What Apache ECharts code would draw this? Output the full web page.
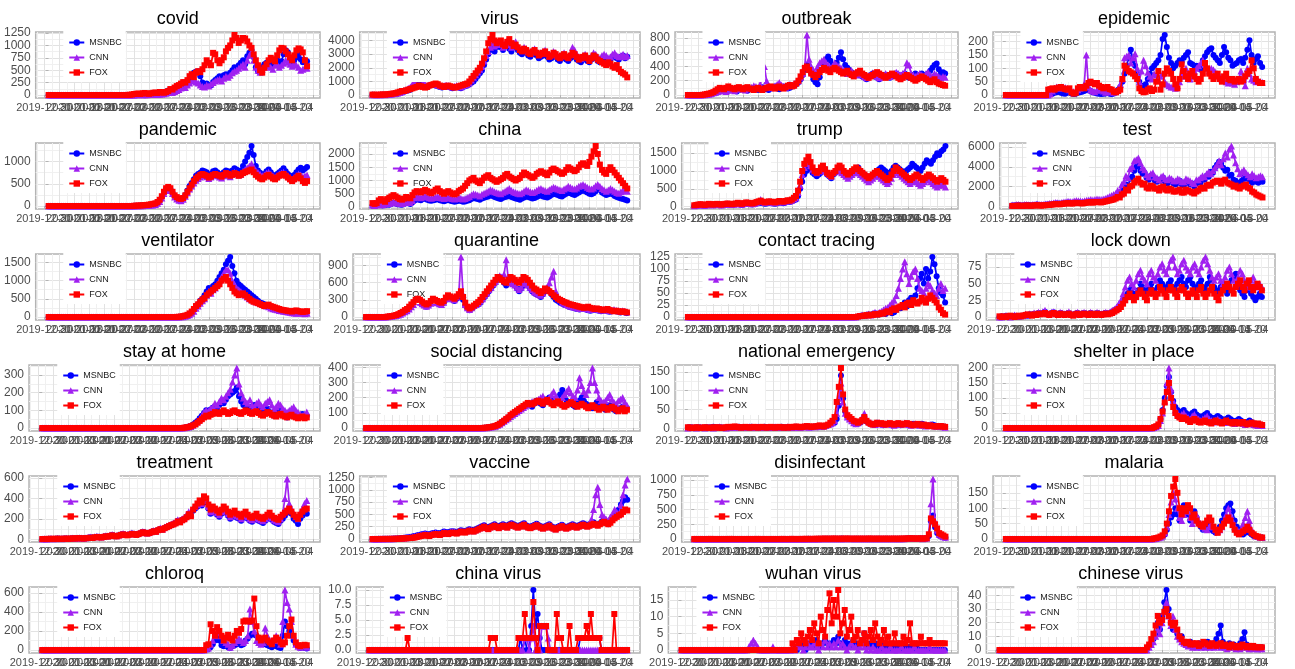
<!DOCTYPE html>
<html>
<head>
<meta charset="utf-8">
<title>Cable news keyword mentions</title>
<script src="https://cdn.jsdelivr.net/npm/echarts@6.0.0/dist/echarts.min.js"></script>
<style>
html,body{margin:0;padding:0;background:#fff;}
#chart{width:1295px;height:669px;}
</style>
</head>
<body>
<div id="chart"></div>
<script>
// Daily keyword mention counts per network, 2020-01-01 .. 2020-05-01 (122 days)
const firstDay = '2020-01-01';
const dayCount = 122;
const networks = ['MSNBC', 'CNN', 'FOX'];

const covid_msnbc = [0,0,0,0,0,0,0,0,0,0,  0,0,0,0,0,0,0,0,0,0,  0,0,0,0,0,0,0,0,0,0,  0,0,0,0,0,0,0,0,0,0,  5,8,12,15,10,6,10,15,20,15,  20,25,30,40,55,70,90,100,80,100,  120,160,200,250,220,280,330,400,450,470,  480,380,250,200,230,200,190,260,300,340,  380,330,400,420,380,450,500,560,520,600,  650,700,620,780,850,900,760,560,480,460,  560,620,650,680,640,600,660,700,650,680,  820,900,860,720,650,700,760,820,720,660,  700,680];
const covid_cnn = [0,0,0,0,0,0,0,0,0,0,  0,0,0,0,0,0,0,0,0,0,  0,0,0,0,0,0,0,0,0,0,  0,0,0,0,0,0,0,0,0,0,  2,3,5,8,6,4,6,8,10,8,  10,12,15,20,25,35,50,60,50,70,  90,110,140,170,150,200,240,280,300,260,  240,200,170,160,200,180,220,250,280,300,  320,280,340,380,360,400,450,480,500,540,  580,620,560,700,800,870,700,560,500,460,  520,560,600,580,560,520,600,620,560,600,  640,700,660,620,580,640,600,560,500,520,  560,540];
const covid_fox = [0,0,0,0,0,0,0,0,0,0,  0,0,0,0,0,0,0,0,0,0,  0,0,0,0,0,0,0,0,0,0,  0,0,0,0,0,0,0,2,5,10,  20,25,30,20,35,40,30,25,35,45,  50,40,60,55,45,60,80,120,110,150,  180,200,230,260,250,300,380,420,360,450,  480,460,520,600,700,650,600,850,820,700,  640,700,760,880,950,1000,1100,1210,1150,1050,  1100,1150,1140,1080,1000,950,820,700,600,500,  450,550,620,700,750,720,680,800,900,950,  940,880,820,760,700,800,900,940,920,860,  700,580];

const virus_msnbc = [20,15,10,15,20,25,20,30,40,50,  60,80,100,150,200,250,300,350,400,500,  600,700,900,800,700,650,600,700,800,750,  700,650,600,550,600,650,600,550,500,550,  600,550,500,600,650,700,800,900,1000,1200,  1400,1600,1800,2200,2600,3000,3300,3400,3200,3500,  3600,3500,3300,3600,3700,3400,3200,3500,3600,3300,  3100,3000,3200,3100,2900,2800,3000,3100,2900,2700,  2800,2900,3000,2800,2600,2700,2900,2800,2600,2500,  2700,2800,2600,2500,2700,2900,2800,2600,2500,2400,  2600,2700,2500,2400,2600,2800,2700,2500,2400,2600,  2800,2700,2500,2600,2800,2900,2700,2600,2800,2900,  2700,2800];
const virus_cnn = [30,25,20,25,30,40,35,50,60,80,  100,120,150,200,250,350,400,500,600,800,  1000,1200,1400,1200,900,800,700,800,900,850,  800,750,700,650,700,750,700,650,600,650,  700,650,600,700,750,800,900,1100,1300,1500,  1700,1900,2100,2500,2900,3200,3500,3800,3600,3700,  3900,3700,3500,3800,4000,3700,3500,3800,3900,3600,  3400,3300,3500,3400,3200,3100,3300,3400,3200,3000,  3100,3200,3300,3100,2900,3000,3200,3100,2900,2800,  3000,3100,2900,2800,3000,3500,3300,3000,2800,2700,  2900,3000,2800,2700,2900,3100,3000,2800,2700,2900,  3000,2900,2700,2800,3000,3100,2900,2800,2900,3000,  2800,2900];
const virus_fox = [40,30,20,30,40,50,40,60,80,100,  120,150,200,250,300,300,350,400,450,500,  550,600,700,650,600,550,600,700,750,800,  850,800,700,650,600,650,700,650,600,550,  600,650,700,750,800,850,1000,1200,1400,1600,  1800,2000,2300,2700,3200,3800,4100,4400,4000,3800,  3900,4000,3700,3600,3900,4100,3800,3600,3700,3500,  3300,3200,3400,3300,3100,3000,3200,3300,3100,2900,  3000,3100,3200,3000,2800,2900,3100,3000,2800,2700,  2900,3000,2800,2700,2900,3100,3000,2800,2600,2700,  2800,2900,2700,2500,2700,2900,2800,2600,2500,2400,  2300,2200,2400,2300,2100,2000,2200,1900,1700,1600,  1500,1300];

const outbreak_msnbc = [0,0,0,0,0,0,0,0,2,5,  10,15,20,30,40,50,60,55,50,60,  70,80,60,50,70,90,80,70,60,80,  90,100,80,70,90,110,100,80,70,90,  100,120,90,80,100,120,110,90,100,120,  130,150,180,220,280,350,420,380,300,220,  180,150,250,350,450,500,540,480,420,400,  450,520,600,500,420,380,350,320,300,280,  280,300,260,240,220,260,280,300,260,240,  220,240,260,280,260,240,260,280,300,280,  260,280,300,260,240,260,280,300,260,280,  300,280,260,300,340,380,420,440,360,300,  320,300];
const outbreak_cnn = [0,0,0,0,0,0,0,2,5,8,  10,20,30,40,50,60,70,60,50,70,  80,70,60,80,100,90,80,70,90,100,  110,130,120,100,150,250,400,200,120,100,  110,130,150,175,140,120,110,130,150,140,  160,180,200,250,300,400,840,500,400,350,  300,400,450,480,500,450,420,380,400,450,  420,400,380,350,330,300,320,340,300,280,  300,320,280,260,240,270,290,310,280,260,  240,260,280,300,280,260,280,300,320,300,  280,300,320,450,420,300,280,260,280,300,  280,260,300,320,280,260,300,280,260,240,  260,250];
const outbreak_fox = [0,0,0,0,0,0,0,3,8,15,  20,30,40,60,80,100,90,80,100,120,  100,90,80,100,110,90,80,100,110,90,  80,70,90,100,80,70,90,100,110,120,  100,90,110,120,100,90,110,130,140,120,  130,160,200,260,320,380,400,350,300,280,  250,280,320,350,380,360,340,320,360,380,  360,340,320,300,320,340,300,280,260,300,  320,340,300,280,260,240,260,280,300,320,  300,280,260,240,260,280,300,280,260,240,  220,240,260,280,260,240,220,200,220,240,  260,240,220,200,180,200,220,180,160,150,  140,130];

const epidemic_msnbc = [0,0,0,0,0,0,0,0,0,0,  0,0,0,0,0,0,0,0,0,0,  2,3,5,8,10,12,8,6,5,8,  10,6,4,5,8,10,12,15,20,18,  15,10,8,6,5,4,5,6,8,5,  4,6,10,20,30,50,80,110,140,170,  130,110,80,50,35,30,40,60,80,100,  110,120,130,150,210,225,180,140,120,100,  110,120,130,125,140,150,160,120,115,110,  110,100,95,130,145,160,170,175,150,140,  130,120,150,180,160,140,130,110,115,120,  130,135,120,140,170,205,150,120,135,145,  120,105];
const epidemic_cnn = [0,0,0,0,0,0,0,0,0,0,  0,0,0,0,0,0,0,0,0,0,  0,5,15,25,30,28,25,30,28,25,  20,15,12,15,20,25,30,40,150,30,  20,15,12,18,22,20,15,10,12,15,  12,10,15,20,40,60,140,145,150,120,  140,155,100,50,90,130,110,85,70,60,  80,75,60,70,80,50,40,35,30,30,  25,35,50,70,90,100,80,60,70,90,  100,110,120,130,115,100,90,100,95,85,  80,70,60,55,50,45,50,45,40,50,  60,90,60,35,100,80,60,55,50,55,  50,48];
const epidemic_fox = [0,0,0,0,0,0,0,0,0,0,  0,0,0,0,0,0,0,0,0,0,  20,22,25,20,25,28,30,25,22,20,  25,10,5,8,25,30,28,25,35,45,  50,45,40,45,35,30,25,28,30,22,  20,12,10,15,20,60,110,100,90,85,  80,70,60,25,15,10,12,20,25,15,  20,50,90,20,40,80,100,90,80,60,  40,25,60,115,90,70,60,80,90,70,  60,50,60,80,120,100,80,70,60,70,  80,60,50,70,80,60,55,60,50,55,  60,50,55,70,80,90,130,100,60,50,  45,45];

const pandemic_msnbc = [0,0,0,0,0,0,0,0,0,0,  0,0,0,0,0,0,0,0,0,0,  0,0,0,0,0,0,0,0,0,0,  0,0,0,0,0,0,0,0,0,0,  3,5,8,10,12,15,20,25,30,40,  50,80,120,200,300,380,420,380,300,220,  180,150,140,170,250,350,450,520,600,680,  720,750,800,780,760,700,720,780,800,760,  720,700,760,800,780,740,800,850,820,780,  800,900,1000,1100,1200,1350,1150,900,800,750,  700,720,780,820,760,700,680,720,760,800,  850,780,720,680,640,700,760,820,860,800,  840,880];
const pandemic_cnn = [0,0,0,0,0,0,0,0,0,0,  0,0,0,0,0,0,0,0,0,0,  0,0,0,0,0,0,0,0,0,0,  0,0,0,0,0,0,0,0,0,0,  2,3,5,6,8,10,12,15,20,25,  35,60,100,180,280,350,400,350,280,200,  160,130,120,150,220,300,380,450,520,580,  620,650,700,680,660,620,650,700,720,680,  650,630,680,720,700,660,720,760,740,700,  720,780,820,860,900,950,880,800,760,720,  680,700,740,760,720,680,650,680,720,740,  760,720,680,640,600,640,680,720,700,660,  680,700];
const pandemic_fox = [0,0,0,0,0,0,0,0,0,0,  0,0,0,0,0,0,0,0,0,0,  0,0,0,0,0,0,0,0,0,0,  0,0,0,0,0,0,0,0,0,0,  5,8,10,12,15,20,25,30,40,50,  60,90,140,220,320,400,430,400,320,240,  200,170,160,180,240,320,400,480,560,620,  660,700,720,700,680,640,660,700,720,700,  680,660,700,740,720,680,700,740,720,680,  700,740,760,780,800,820,760,700,660,620,  600,640,680,700,660,620,600,640,680,700,  720,680,640,600,560,600,640,680,620,560,  520,560];

const china_msnbc = [50,40,60,80,70,60,80,100,90,120,  150,130,110,100,90,120,150,140,120,180,  250,300,280,260,300,320,280,250,240,260,  280,300,260,240,220,250,270,240,220,200,  220,250,230,200,210,240,260,300,350,320,  300,280,320,350,380,400,450,420,380,350,  320,300,350,380,400,420,380,350,320,300,  280,320,360,400,380,350,320,340,380,420,  450,400,380,360,400,450,500,480,450,420,  400,450,500,550,520,480,450,500,550,600,  650,600,550,500,480,520,600,700,650,550,  500,450,480,520,480,420,380,350,320,300,  280,250];
const china_cnn = [80,60,80,120,100,90,120,150,130,160,  200,180,150,140,130,160,200,180,170,250,  350,400,380,350,400,420,380,350,330,360,  380,400,360,340,320,350,380,340,320,300,  320,350,330,300,320,360,400,450,500,480,  450,420,480,520,560,600,650,620,580,550,  520,500,560,600,650,700,620,580,550,520,  500,540,600,650,620,580,550,580,620,680,  700,650,620,600,650,700,750,720,680,650,  620,680,720,780,750,700,680,720,780,820,  850,800,750,700,680,720,800,850,780,700,  650,600,640,700,650,600,550,520,580,620,  650,600];
const china_fox = [150,120,150,250,300,250,200,300,350,400,  450,400,350,300,280,320,380,350,330,450,  550,600,580,550,600,650,600,550,520,580,  650,700,600,550,500,550,600,550,500,480,  520,600,650,700,800,900,1000,1050,1100,1000,  950,900,1000,1100,1150,1200,1100,1050,1000,950,  1000,1050,1100,1200,1250,1150,1100,1050,1000,1050,  1100,1200,1300,1250,1200,1150,1100,1150,1250,1300,  1350,1300,1250,1200,1300,1400,1450,1400,1350,1300,  1250,1300,1400,1500,1450,1400,1350,1400,1500,1600,  1650,1600,1550,1700,1900,2100,2300,2000,1600,1400,  1300,1250,1400,1500,1400,1300,1200,1100,1000,900,  800,700];

const trump_msnbc = [20,30,40,50,40,30,40,60,50,40,  50,60,50,40,50,60,70,60,50,60,  70,80,60,50,70,90,80,70,60,80,  90,100,120,100,80,90,110,100,90,80,  100,120,110,100,120,140,130,150,180,200,  300,500,700,900,1000,1100,1050,950,900,850,  900,950,1000,1050,900,850,800,900,950,1000,  1050,1000,950,900,850,900,950,1000,1050,1100,  1000,950,900,850,800,850,900,950,1000,1050,  1100,1050,1000,950,900,1000,1100,1150,1100,1050,  1000,950,1000,1050,1100,1200,1150,1100,1050,1000,  1100,1200,1300,1250,1200,1300,1400,1500,1450,1550,  1600,1700];
const trump_cnn = [30,40,50,60,50,40,50,70,60,50,  60,70,60,50,60,70,80,70,60,70,  80,100,80,70,90,110,100,90,80,100,  120,150,200,150,120,130,150,130,120,110,  130,150,140,130,150,170,160,180,220,250,  400,600,900,1100,1200,1250,1150,1050,1000,950,  1000,1050,1100,1000,950,900,850,950,1000,1050,  1000,950,900,850,800,850,900,950,1000,950,  900,850,800,750,700,750,800,850,900,850,  800,750,700,650,700,800,900,1000,950,900,  850,800,750,700,650,700,750,700,650,600,  650,700,750,800,700,650,600,550,600,650,  600,550];
const trump_fox = [40,50,60,70,60,50,60,80,70,60,  70,80,70,60,70,80,90,80,70,80,  90,110,90,80,100,120,110,100,90,110,  130,150,170,140,120,130,150,140,130,120,  140,160,150,140,160,180,170,200,250,300,  450,700,1000,1200,1300,1400,1250,1100,1000,950,  1000,1100,1150,1050,950,900,850,950,1000,1100,  1150,1100,1000,950,900,950,1000,1050,1100,1050,  1000,950,900,850,800,850,900,950,1000,950,  900,850,800,750,800,900,1000,1100,1050,1000,  950,900,850,800,750,800,850,900,850,800,  750,800,850,900,850,800,750,700,750,800,  750,700];

const test_msnbc = [100,80,120,150,100,80,120,150,130,100,  120,150,180,150,120,140,160,180,200,220,  250,300,280,260,300,320,350,400,380,350,  400,450,420,400,380,420,450,480,500,450,  500,550,520,500,550,600,650,700,750,800,  900,1100,1000,1500,1700,2200,2000,2800,3000,3600,  4000,4200,3600,3300,3400,2900,2700,3100,2900,2600,  2500,2700,2600,2900,2500,2300,2600,2500,2300,2200,  2400,2600,2200,2100,2400,2500,2200,2300,2000,2300,  2500,2400,2800,2700,3100,3000,3500,3400,3900,4200,  4500,4300,3900,3600,3700,3100,3200,2700,2600,2400,  2300,2600,2900,2800,3000,2600,2400,2700,2500,2400,  2600,2500];
const test_cnn = [150,120,180,200,150,120,180,200,170,150,  180,200,250,200,180,200,230,250,280,300,  350,400,380,350,400,450,480,520,500,480,  550,600,580,550,520,580,620,650,700,650,  700,750,720,700,750,800,900,1000,1100,1200,  1300,1600,1500,2200,2500,3100,2900,3800,4000,4600,  4700,4900,4400,3900,3700,3200,3000,3300,3400,3000,  2900,2700,3000,3100,2800,2700,2900,2800,2600,2600,  2800,2700,2500,2500,2800,2700,2600,2400,2300,2700,  2700,2900,3100,3000,3300,3500,3300,3600,3900,4200,  4600,4200,4800,5400,5000,5800,6100,5200,4400,3800,  3300,3500,3700,3400,3200,3000,3300,3100,2900,3000,  3100,3000];
const test_fox = [50,40,60,80,60,50,70,90,80,60,  80,100,120,100,80,100,120,140,160,180,  200,250,230,210,250,280,300,330,310,290,  320,360,340,320,300,340,380,400,420,380,  420,450,430,400,450,500,550,600,650,700,  800,950,900,1200,1300,1700,1600,2000,2100,2400,  2600,2800,2400,2200,2300,1900,1800,2100,2000,1800,  1800,1600,1900,2000,1700,1600,1800,1700,1500,1500,  1600,1700,1400,1400,1700,1600,1500,1400,1300,1500,  1600,1800,1900,1800,2100,2200,2100,2400,2500,2600,  2500,2300,2600,2700,2400,2300,2200,2000,2100,1900,  1800,2000,2100,2200,1900,1800,1500,1400,1200,1100,  1000,900];

const ventilator_msnbc = [0,0,0,0,0,0,0,0,0,0,  0,0,0,0,0,0,0,0,0,0,  0,0,0,0,0,0,0,0,0,0,  0,0,0,0,0,0,0,0,0,0,  0,0,0,0,0,0,0,0,0,0,  0,0,0,0,0,0,0,0,0,0,  2,5,10,20,30,50,80,120,200,300,  350,450,500,600,700,800,750,850,900,1000,  1100,1200,1300,1450,1550,1650,1400,1200,1000,900,  850,800,750,700,650,600,550,500,450,400,  380,350,320,300,280,250,230,220,200,180,  170,160,150,140,130,120,140,150,130,120,  110,130];
const ventilator_cnn = [0,0,0,0,0,0,0,0,0,0,  0,0,0,0,0,0,0,0,0,0,  0,0,0,0,0,0,0,0,0,0,  0,0,0,0,0,0,0,0,0,0,  0,0,0,0,0,0,0,0,0,0,  0,0,0,0,0,0,0,0,0,0,  2,3,6,10,20,40,60,100,160,240,  300,380,450,500,600,700,650,750,800,900,  1000,1100,1200,1300,1300,1200,1000,900,800,750,  700,650,600,550,500,480,450,420,400,380,  350,320,300,280,250,230,210,200,180,170,  160,150,140,130,120,110,100,120,110,100,  90,100];
const ventilator_fox = [0,0,0,0,0,0,0,0,0,0,  0,0,0,0,0,0,0,0,0,0,  0,0,0,0,0,0,0,0,0,0,  0,0,0,0,0,0,0,0,0,0,  0,0,0,0,0,0,0,0,0,0,  0,0,0,0,0,0,0,0,0,0,  3,6,12,25,40,60,100,150,220,300,  350,420,480,520,600,650,700,750,800,850,  900,1000,1050,1100,1000,900,800,700,650,600,  620,650,600,550,500,450,420,400,380,350,  330,300,320,340,300,280,260,240,220,200,  190,180,170,160,150,170,180,160,150,140,  150,160];

const quarantine_msnbc = [0,0,0,0,0,0,0,0,0,0,  5,10,15,20,30,40,60,80,100,120,  150,200,250,300,280,250,220,200,180,200,  250,300,280,260,240,220,250,300,350,320,  300,280,320,350,400,300,200,150,120,150,  180,200,220,250,300,350,400,450,500,550,  600,650,700,650,600,550,600,650,600,550,  500,450,500,550,600,550,500,450,420,400,  380,350,400,450,500,450,400,350,300,280,  250,230,210,200,180,170,160,150,140,130,  150,140,130,120,110,120,130,120,110,100,  110,120,100,90,100,110,100,90,80,90,  80,70];
const quarantine_cnn = [0,0,0,0,0,0,0,0,0,0,  5,8,12,20,25,35,50,70,90,110,  140,180,220,280,300,260,230,210,190,210,  240,280,260,250,230,220,260,320,360,330,  320,300,350,400,1050,400,220,160,130,160,  200,220,240,280,320,380,420,480,520,580,  620,680,720,700,750,1000,650,600,580,560,  520,480,520,580,620,560,520,480,440,420,  400,380,420,480,520,600,700,800,450,350,  300,260,240,220,200,190,180,170,160,150,  170,160,150,140,130,140,150,140,130,120,  130,140,120,110,120,130,120,110,100,110,  100,90];
const quarantine_fox = [0,0,0,0,0,0,0,0,0,0,  8,12,18,25,35,50,70,90,120,140,  180,220,260,300,320,300,270,240,220,240,  280,320,300,280,260,250,280,340,380,360,  340,320,360,400,450,350,250,180,150,170,  200,230,260,300,350,400,450,500,550,600,  650,700,680,650,620,600,650,700,680,650,  620,600,650,700,680,650,600,550,500,480,  450,420,450,500,480,450,420,380,350,320,  300,280,260,250,230,220,210,200,190,180,  170,160,170,180,160,150,140,150,140,130,  120,130,140,120,110,100,110,100,90,100,  90,80];

const contact_msnbc = [0,0,0,0,0,0,0,0,0,0,  0,0,0,0,0,0,0,0,0,0,  0,0,0,0,0,0,0,0,0,0,  0,0,0,0,0,0,0,0,0,0,  0,0,0,0,0,0,0,0,0,0,  0,0,0,0,0,0,0,0,0,0,  0,0,0,0,0,0,0,0,0,0,  0,0,0,0,0,0,0,0,0,0,  1,2,3,2,3,5,4,6,8,5,  5,6,8,6,10,12,8,10,15,20,  18,25,30,22,35,40,30,45,60,80,  90,70,100,80,95,125,110,85,60,50,  45,30];
const contact_cnn = [0,0,0,0,0,0,0,0,0,0,  0,0,0,0,0,0,0,0,0,0,  0,0,0,0,0,0,0,0,0,0,  0,0,0,0,0,0,0,0,0,0,  0,0,0,0,0,0,0,0,0,0,  0,0,0,0,0,0,0,0,0,0,  0,0,0,0,0,0,0,0,0,0,  0,0,0,0,0,0,0,0,0,0,  2,3,4,3,5,6,4,8,10,8,  10,12,15,18,20,25,30,35,45,60,  80,100,115,90,70,85,95,100,80,60,  55,50,60,70,65,55,50,45,60,70,  55,60];
const contact_fox = [0,0,0,0,0,0,0,0,0,0,  0,0,0,0,0,0,0,0,0,0,  0,0,0,0,0,0,0,0,0,0,  0,0,0,0,0,0,0,0,0,0,  0,0,0,0,0,0,0,0,0,0,  0,0,0,0,0,0,0,0,0,0,  0,0,0,0,0,0,0,0,0,0,  0,0,0,0,0,0,0,0,0,0,  1,2,2,3,4,3,5,4,6,5,  6,8,7,10,12,10,15,18,15,20,  22,25,20,28,30,25,35,30,28,32,  40,35,30,38,45,40,35,30,20,15,  8,5];

const lockdown_msnbc = [0,1,0,2,1,0,1,2,1,0,  1,2,3,2,4,3,5,4,6,5,  6,8,5,4,6,7,5,4,6,5,  4,5,6,4,3,5,6,4,5,6,  5,4,6,5,4,6,5,4,5,6,  5,6,8,10,12,15,20,25,30,35,  40,45,35,30,40,50,45,40,35,45,  50,40,35,45,55,50,40,45,50,55,  45,40,50,55,60,50,45,55,60,50,  45,40,50,55,45,40,50,60,55,45,  40,35,45,50,40,35,45,55,60,65,  50,40,35,30,40,45,35,30,25,30,  35,30];
const lockdown_cnn = [0,0,1,2,1,0,1,3,2,1,  2,3,4,3,5,4,6,5,7,6,  8,10,6,5,7,8,6,5,7,6,  5,6,8,5,4,6,7,5,6,7,  6,5,7,6,5,7,6,5,6,7,  6,8,10,12,15,20,25,35,45,55,  60,50,45,55,65,70,60,55,50,65,  70,60,55,65,75,80,70,65,75,85,  90,75,65,70,80,85,75,70,65,75,  80,70,65,75,85,90,80,70,60,55,  60,65,55,50,60,70,75,65,55,50,  60,70,65,55,50,45,55,60,50,45,  50,45];
const lockdown_fox = [1,0,1,0,1,2,1,0,1,2,  1,2,3,4,3,2,4,3,5,4,  5,6,4,3,5,6,4,3,5,4,  3,4,5,3,2,4,5,3,4,5,  4,3,5,4,3,5,4,3,4,5,  4,5,6,8,10,12,15,20,25,30,  35,30,25,30,35,40,35,30,25,35,  40,35,30,35,45,40,35,30,40,45,  40,35,30,40,45,40,35,30,35,40,  35,30,40,45,35,30,35,40,45,35,  30,25,35,40,45,50,45,40,35,45,  50,55,45,40,50,55,45,40,45,50,  45,40];

const stay_msnbc = [0,0,0,0,0,0,0,0,0,0,  0,0,0,0,0,0,0,0,0,0,  0,0,0,0,0,0,0,0,0,0,  0,0,0,0,0,0,0,0,0,0,  0,0,0,0,0,0,0,0,0,0,  0,0,0,0,0,0,0,0,0,0,  0,0,0,0,0,2,5,8,12,20,  30,40,55,70,85,100,90,105,115,120,  110,130,150,140,160,180,190,200,210,230,  180,150,130,120,110,100,120,130,110,100,  80,90,100,110,90,80,70,80,90,100,  80,70,60,70,80,90,70,60,70,80,  60,70];
const stay_cnn = [0,0,0,0,0,0,0,0,0,0,  0,0,0,0,0,0,0,0,0,0,  0,0,0,0,0,0,0,0,0,0,  0,0,0,0,0,0,0,0,0,0,  0,0,0,0,0,0,0,0,0,0,  0,0,0,0,0,0,0,0,0,0,  0,0,0,0,0,1,3,5,8,15,  25,35,50,70,90,100,95,110,120,140,  130,150,170,160,180,200,220,260,300,340,  250,200,170,150,140,160,130,120,140,150,  130,120,140,150,160,130,110,120,140,130,  110,100,90,100,110,120,100,90,80,70,  80,90];
const stay_fox = [0,0,0,0,0,0,0,0,0,0,  0,0,0,0,0,0,0,0,0,0,  0,0,0,0,0,0,0,0,0,0,  0,0,0,0,0,0,0,0,0,0,  0,0,0,0,0,0,0,0,0,0,  0,0,0,0,0,0,0,0,0,0,  0,0,0,0,0,2,4,6,10,15,  20,30,40,50,60,70,65,75,80,90,  85,80,90,100,90,80,85,95,100,90,  85,80,90,100,95,85,80,90,95,85,  75,70,80,90,85,75,70,65,75,80,  70,65,60,70,75,65,60,55,60,65,  55,60];

const social_msnbc = [0,0,0,0,0,0,0,0,0,0,  0,0,0,0,0,0,0,0,0,0,  0,0,0,0,0,0,0,0,0,0,  0,0,0,0,0,0,0,0,0,0,  0,0,0,0,0,0,0,0,0,0,  0,0,0,0,0,2,3,5,8,10,  15,20,30,40,50,60,70,80,90,100,  110,120,130,140,150,160,150,140,160,180,  170,160,150,170,190,200,180,160,170,190,  220,250,200,180,170,160,150,140,160,180,  200,180,160,150,140,130,150,170,160,140,  130,120,140,150,130,120,110,120,130,140,  120,130];
const social_cnn = [0,0,0,0,0,0,0,0,0,0,  0,0,0,0,0,0,0,0,0,0,  0,0,0,0,0,0,0,0,0,0,  0,0,0,0,0,0,0,0,0,0,  0,0,0,0,0,0,0,0,0,0,  0,0,0,0,0,1,2,4,6,8,  12,18,25,35,45,55,65,75,85,95,  105,115,125,135,145,155,165,175,170,180,  190,200,210,190,180,200,220,240,210,190,  180,200,220,240,260,230,210,200,250,330,  280,240,220,250,300,395,300,250,200,180,  170,180,200,220,190,170,160,180,190,200,  170,150];
const social_fox = [0,0,0,0,0,0,0,0,0,0,  0,0,0,0,0,0,0,0,0,0,  0,0,0,0,0,0,0,0,0,0,  0,0,0,0,0,0,0,0,0,0,  0,0,0,0,0,0,0,0,0,0,  0,0,0,0,0,2,3,5,7,10,  14,20,28,38,48,60,70,85,95,105,  115,125,135,145,155,165,160,155,165,175,  180,170,160,175,185,170,160,150,165,175,  160,150,140,150,160,170,160,150,140,150,  160,150,140,130,140,150,140,130,120,130,  140,130,120,130,140,130,120,110,120,130,  110,120];

const emergency_msnbc = [2,3,2,1,2,3,2,1,2,3,  2,3,4,3,2,3,2,1,2,3,  2,3,2,3,4,3,2,3,2,3,  4,3,2,3,2,3,4,3,2,3,  2,3,2,3,4,3,2,3,2,3,  3,4,3,2,3,4,5,4,3,4,  5,4,6,5,4,6,8,10,12,15,  25,60,140,80,45,30,25,20,18,15,  12,15,20,25,18,15,12,10,12,15,  12,10,8,10,12,10,8,10,12,10,  8,10,12,10,8,10,12,10,8,10,  12,10,8,6,8,10,8,6,5,6,  5,4];
const emergency_cnn = [1,2,3,2,1,2,3,2,1,2,  3,2,1,2,3,4,3,2,1,2,  3,2,3,4,3,2,3,2,3,4,  3,2,3,4,3,2,3,2,3,2,  3,4,3,2,3,2,3,4,3,2,  4,3,2,3,4,5,4,3,4,5,  4,5,6,5,6,8,10,12,15,20,  40,80,120,70,40,30,25,20,15,12,  15,20,30,40,25,18,15,12,10,12,  14,12,10,12,14,12,10,8,10,12,  10,12,14,12,10,8,10,12,10,8,  10,8,6,8,10,8,6,5,6,5,  4,3];
const emergency_fox = [3,2,1,2,3,2,1,2,3,2,  1,2,3,2,3,2,1,2,3,4,  3,4,5,4,3,2,3,4,3,2,  3,4,3,2,3,4,3,2,3,4,  3,2,3,4,3,2,3,2,4,3,  4,5,4,3,4,5,6,5,4,5,  5,6,8,6,5,8,10,15,20,30,  70,110,160,90,50,35,30,25,20,18,  15,18,22,30,20,15,12,10,12,15,  12,14,12,10,12,14,12,10,12,14,  12,10,12,14,12,10,8,10,12,10,  8,10,8,6,8,6,5,6,5,6,  5,4];

const shelter_msnbc = [0,0,0,0,0,0,0,0,0,0,  0,0,0,0,0,0,0,0,0,0,  0,0,0,0,0,0,0,0,0,0,  0,0,0,0,0,0,0,0,0,0,  0,0,0,0,0,0,0,0,0,0,  0,0,0,0,0,0,0,0,0,0,  0,0,0,0,0,0,0,0,0,0,  2,5,10,30,60,100,140,170,120,90,  70,60,50,55,60,50,45,40,50,55,  45,40,35,40,45,50,40,35,30,35,  40,35,30,25,30,35,30,25,20,25,  30,25,20,15,20,25,20,15,12,10,  12,10];
const shelter_cnn = [0,0,0,0,0,0,0,0,0,0,  0,0,0,0,0,0,0,0,0,0,  0,0,0,0,0,0,0,0,0,0,  0,0,0,0,0,0,0,0,0,0,  0,0,0,0,0,0,0,0,0,0,  0,0,0,0,0,0,0,0,0,0,  0,0,0,0,0,0,0,0,0,0,  2,4,8,25,50,90,150,200,130,90,  60,50,40,45,50,40,35,30,40,45,  35,30,25,30,35,40,30,25,20,25,  30,25,20,18,20,25,20,18,15,20,  22,18,15,12,15,18,15,12,10,8,  10,8];
const shelter_fox = [0,0,0,0,0,0,0,0,0,0,  0,0,0,0,0,0,0,0,0,0,  0,0,0,0,0,0,0,0,0,0,  0,0,0,0,0,0,0,0,0,0,  0,0,0,0,0,0,0,0,0,0,  0,0,0,0,0,0,0,0,0,0,  0,0,0,0,0,0,0,0,0,0,  3,6,12,30,55,85,120,150,100,70,  50,40,35,30,35,30,25,20,25,30,  25,20,18,22,25,20,18,15,20,25,  20,18,15,20,25,20,18,15,20,18,  15,18,20,15,12,15,18,15,12,15,  12,10];

const treatment_msnbc = [2,3,2,4,5,3,4,6,5,4,  6,8,5,7,9,8,10,12,10,8,  12,15,18,14,20,25,22,18,25,30,  28,35,40,32,30,38,45,50,42,40,  48,55,50,45,52,60,70,65,58,62,  70,80,75,90,100,95,110,120,130,140,  150,160,180,170,190,200,220,250,230,280,  300,320,350,330,380,360,300,250,280,260,  240,220,250,280,260,230,200,220,240,210,  200,180,210,230,200,180,170,190,210,180,  170,160,180,200,220,190,170,160,150,180,  200,230,260,300,250,200,180,150,200,230,  260,250];
const treatment_cnn = [3,4,3,5,6,4,5,7,6,5,  8,10,7,9,12,10,13,15,12,10,  15,18,22,18,25,30,26,22,30,35,  32,40,45,38,35,42,50,55,48,45,  52,60,55,50,58,65,75,70,62,68,  75,85,80,95,110,100,120,130,140,150,  160,170,190,180,200,210,240,270,250,300,  320,340,370,350,400,380,320,270,300,280,  260,240,270,300,280,250,220,240,260,230,  220,200,230,250,220,200,190,210,230,200,  190,180,200,220,240,210,190,180,170,200,  250,400,590,350,300,250,220,200,250,300,  350,380];
const treatment_fox = [2,2,3,3,4,3,4,5,4,3,  5,6,4,6,8,7,9,10,8,7,  10,12,15,12,18,22,20,16,22,28,  25,32,38,30,28,35,42,48,40,38,  45,52,48,42,50,58,68,62,55,60,  68,78,72,88,98,92,108,118,128,138,  145,155,175,165,185,195,215,245,225,290,  320,350,380,360,420,400,340,290,320,300,  280,260,290,320,300,270,240,260,280,250,  240,220,250,270,240,220,210,230,250,220,  210,200,220,240,260,230,210,200,190,220,  240,260,280,300,270,240,220,200,240,270,  290,300];

const vaccine_msnbc = [0,2,1,3,2,4,3,5,4,6,  8,10,12,15,20,25,30,35,40,50,  60,70,80,90,100,110,100,90,110,120,  130,120,110,130,150,140,130,150,160,150,  140,160,180,170,160,180,200,190,180,200,  220,240,260,280,250,230,260,280,300,270,  250,280,300,280,260,300,320,300,280,260,  280,300,320,280,260,250,270,290,310,280,  260,240,260,280,300,260,240,220,250,270,  290,260,240,260,280,300,280,260,280,300,  320,300,280,300,320,340,300,280,320,360,  400,350,300,380,450,500,550,600,700,780,  850,800];
const vaccine_cnn = [0,1,2,1,3,2,4,3,5,4,  6,8,10,12,15,20,25,30,35,45,  55,65,75,85,95,105,95,85,100,110,  120,110,100,120,140,130,120,140,150,140,  130,150,170,160,150,170,190,180,170,190,  210,230,250,270,240,220,250,270,290,260,  240,270,290,270,250,290,310,290,270,250,  270,290,310,270,250,240,260,280,300,270,  250,230,250,270,290,250,230,210,240,260,  280,250,230,250,270,290,270,250,270,290,  310,290,270,290,400,600,900,1050,700,500,  450,400,380,450,500,600,550,500,700,900,  1100,1220];
const vaccine_fox = [0,0,1,0,1,2,1,2,3,2,  4,5,6,8,10,12,15,18,20,25,  30,40,50,60,70,80,70,60,80,90,  100,90,80,100,120,110,100,120,130,120,  110,130,150,140,130,150,170,160,150,170,  190,210,230,250,220,200,230,250,270,240,  220,250,270,250,230,270,290,270,250,230,  250,270,290,250,230,220,240,260,280,250,  230,210,230,250,270,230,210,190,220,240,  260,230,210,230,250,270,250,230,250,270,  290,270,250,270,290,310,290,270,300,330,  350,320,300,330,380,420,450,480,500,550,  600,580];

const disinfectant_msnbc = [0,0,1,0,0,2,1,0,0,1,  0,1,0,0,2,0,1,0,0,1,  0,0,1,2,0,1,0,0,1,0,  1,0,0,2,1,0,0,1,0,0,  2,1,0,0,1,0,2,0,1,0,  0,1,2,0,1,3,2,1,0,2,  3,2,4,3,5,4,3,5,6,4,  5,8,6,5,4,6,5,4,3,5,  4,3,5,4,6,5,4,3,4,5,  6,4,3,5,4,3,4,5,6,4,  5,6,8,10,12,10,8,6,8,10,  8,10,15,50,300,400,200,100,60,40,  30,20];
const disinfectant_cnn = [0,1,0,0,1,0,0,2,0,0,  1,0,0,1,0,2,0,0,1,0,  0,1,0,0,2,0,1,0,0,2,  0,0,1,0,0,1,2,0,0,1,  0,2,1,0,0,1,0,0,2,1,  0,0,1,2,0,2,3,1,2,3,  2,4,3,5,4,6,5,4,6,5,  6,5,4,6,7,5,4,6,5,4,  5,4,6,5,4,3,5,6,4,5,  4,5,6,4,5,6,5,4,5,6,  6,5,7,9,10,8,7,8,10,12,  6,8,15,100,600,1020,300,150,80,60,  40,30];
const disinfectant_fox = [1,0,0,1,0,0,1,0,2,0,  0,1,0,0,1,0,0,2,0,1,  0,0,1,0,0,1,0,1,0,0,  2,0,1,0,0,1,0,0,1,0,  0,1,0,2,0,0,1,2,0,1,  1,0,2,1,3,2,1,2,3,4,  3,5,4,6,5,4,5,7,6,5,  4,6,5,7,6,5,4,5,6,4,  5,6,4,5,7,6,5,4,6,5,  5,4,6,5,4,5,6,5,4,6,  7,6,8,9,11,10,9,8,9,11,  6,10,12,80,350,300,250,180,100,80,  60,40];

const malaria_msnbc = [0,0,0,0,0,0,0,0,0,0,  0,0,0,0,0,0,0,0,0,0,  0,0,0,0,0,0,0,0,0,0,  0,0,0,0,0,0,0,0,0,0,  0,0,0,0,0,0,0,0,0,0,  0,0,0,0,0,0,0,0,0,0,  0,0,0,0,0,0,0,0,0,0,  1,2,3,5,8,15,30,50,70,80,  100,80,60,90,110,100,80,60,70,90,  70,50,40,30,40,50,40,30,25,20,  30,40,60,80,100,110,115,90,60,40,  30,20,15,20,30,20,15,10,8,6,  5,5];
const malaria_cnn = [0,0,0,0,0,0,0,0,0,0,  0,0,0,0,0,0,0,0,0,0,  0,0,0,0,0,0,0,0,0,0,  0,0,0,0,0,0,0,0,0,0,  0,0,0,0,0,0,0,0,0,0,  0,0,0,0,0,0,0,0,0,0,  0,0,0,0,0,0,0,0,0,0,  1,2,4,6,10,20,40,80,120,150,  130,100,70,60,80,100,90,70,50,60,  80,60,50,40,35,30,40,50,40,30,  25,30,40,60,80,100,80,60,40,30,  25,30,50,70,90,60,30,20,10,8,  6,5];
const malaria_fox = [0,0,0,0,0,0,0,0,0,0,  0,0,0,0,0,0,0,0,0,0,  0,0,0,0,0,0,0,0,0,0,  0,0,0,0,0,0,0,0,0,0,  0,0,0,0,0,0,0,0,0,0,  0,0,0,0,0,0,0,0,0,0,  0,0,0,0,0,0,0,0,0,0,  2,3,5,8,12,25,50,90,140,170,  195,150,100,80,100,90,110,100,70,80,  60,50,45,40,50,60,70,60,40,30,  20,30,40,50,60,70,60,45,30,20,  15,20,25,30,40,30,20,15,10,8,  5,5];

const chloroq_msnbc = [0,0,0,0,0,0,0,0,0,0,  0,0,0,0,0,0,0,0,0,0,  0,0,0,0,0,0,0,0,0,0,  0,0,0,0,0,0,0,0,0,0,  0,0,0,0,0,0,0,0,0,0,  0,0,0,0,0,0,0,0,0,0,  0,0,0,0,0,0,0,0,0,0,  0,0,0,0,0,5,10,30,60,100,  150,100,50,40,60,30,20,40,50,60,  80,50,60,100,120,150,170,160,150,120,  100,80,60,50,40,30,50,40,30,20,  150,300,250,200,150,100,60,40,20,30,  20,15];
const chloroq_cnn = [0,0,0,0,0,0,0,0,0,0,  0,0,0,0,0,0,0,0,0,0,  0,0,0,0,0,0,0,0,0,0,  0,0,0,0,0,0,0,0,0,0,  0,0,0,0,0,0,0,0,0,0,  0,0,0,0,0,0,0,0,0,0,  0,0,0,0,0,0,0,0,0,0,  0,0,0,0,0,10,20,60,100,150,  180,200,150,100,80,60,30,50,80,100,  120,100,80,100,150,430,300,200,100,80,  60,80,230,150,100,80,120,150,100,60,  300,630,500,430,300,150,60,40,30,50,  40,30];
const chloroq_fox = [0,0,0,0,0,0,0,0,0,0,  0,0,0,0,0,0,0,0,0,0,  0,0,0,0,0,0,0,0,0,0,  0,0,0,0,0,0,0,0,0,0,  0,0,0,0,0,0,0,0,0,0,  0,0,0,0,0,0,0,0,0,0,  0,0,0,0,0,0,0,0,0,0,  0,0,0,0,0,50,60,270,200,150,  240,200,150,100,130,160,120,100,150,200,  180,220,300,310,300,300,310,540,250,130,  100,120,130,100,80,60,100,130,110,80,  60,80,150,250,320,150,80,50,40,50,  55,50];

const chinavirus_msnbc = [0,0,0,0,0,0,0,0,0,0,  0,0,0,0,0,0,0,0,0,0,  0,0,0,0,0,0,0,0,0,0,  0,0,0,0,0,0,0,0,0,0,  0,0,0,0,0,0,0,0,0,0,  0,0,0,0,0,0,0,0,0,0,  0,0,0,0,0,0,0,0,0,0,  0,2,0,2,0,0,4,10,4,6,  2,0,0,0,0,0,0,0,0,0,  0,0,0,0,0,0,0,0,0,2,  2,2,2,2,2,2,2,2,2,0,  0,0,0,0,0,0,0,0,0,0,  0,0];
const chinavirus_cnn = [0,0,0,0,0,0,0,0,0,0,  0,0,0,0,0,0,0,0,0,0,  0,0,0,0,0,0,0,0,0,0,  0,0,0,0,0,0,0,0,0,0,  0,0,0,0,0,0,0,0,0,0,  0,0,0,0,0,0,0,0,0,0,  0,0,0,0,0,0,0,0,0,0,  0,0,0,2,2,0,2,4,0,0,  0,4,4,4,2,0,0,0,0,0,  0,0,0,0,0,0,0,0,0,0,  0,0,0,0,0,0,0,0,0,0,  0,0,0,0,0,0,0,0,0,0,  0,0];
const chinavirus_fox = [0,0,0,0,0,0,0,0,0,0,  0,0,0,0,0,0,0,0,2,0,  0,0,0,0,0,0,0,0,0,0,  0,0,0,0,0,0,0,0,0,0,  0,0,0,0,0,0,0,0,0,0,  0,0,0,0,0,0,0,2,2,2,  0,0,0,0,0,0,0,0,0,0,  2,2,2,6,2,2,2,8,2,0,  4,4,4,4,0,0,0,0,6,2,  2,0,0,0,4,0,0,0,2,2,  2,2,4,2,6,2,2,2,2,0,  0,0,0,0,0,6,0,0,0,0,  0,0];

const wuhan_msnbc = [0,0,0,0,0,0,0,0,0,0,  0,0,0,0,0,0,0,0,0,0,  0,0,0,0,0,0,0,0,0,0,  0,0,0,0,0,0,0,0,0,0,  0,0,0,0,0,0,0,0,0,0,  0,0,1,0,1,2,1,0,2,1,  2,1,3,2,1,2,3,2,1,2,  3,2,4,2,1,3,2,1,2,3,  2,1,2,3,5,2,1,2,1,2,  1,0,1,2,1,0,1,0,1,0,  1,0,0,1,0,1,0,0,1,0,  0,0,0,0,0,0,0,0,0,0,  0,0];
const wuhan_cnn = [0,0,0,0,0,0,0,0,0,0,  0,0,0,0,0,0,0,0,0,0,  0,0,0,0,0,0,0,0,0,0,  0,1,2,3,2,1,0,0,0,0,  0,0,1,0,0,0,0,0,0,0,  0,1,0,1,2,1,0,1,2,1,  1,2,1,0,2,1,3,1,2,1,  2,1,3,1,2,1,0,1,2,1,  1,0,1,2,1,0,1,0,1,0,  0,0,1,0,0,0,1,0,0,0,  0,1,0,0,0,0,0,1,0,0,  0,0,0,0,1,0,0,0,0,0,  0,0];
const wuhan_fox = [0,0,0,0,0,0,0,0,0,0,  0,0,0,0,0,0,0,0,0,0,  0,0,0,0,0,0,0,0,0,0,  0,0,0,0,0,0,0,0,0,0,  0,0,0,0,0,0,0,0,0,0,  0,2,0,3,2,5,3,2,4,6,  3,8,5,2,10,6,4,12,17,8,  15,10,18,5,8,12,4,6,10,3,  4,6,2,3,5,2,4,6,3,8,  4,2,3,6,2,4,2,2,5,2,  2,2,4,2,3,8,2,2,2,2,  4,2,2,2,3,2,2,2,2,2,  2,2];

const chinese_msnbc = [0,0,0,0,0,0,0,0,0,0,  0,0,0,0,0,0,0,0,0,0,  0,0,0,0,0,0,0,0,0,0,  0,0,0,0,0,0,0,0,0,0,  0,0,0,0,0,0,0,0,0,0,  0,0,0,0,0,0,0,0,0,0,  0,0,0,0,0,0,0,0,1,3,  5,8,12,20,15,25,35,44,30,20,  15,20,12,8,10,6,5,4,6,3,  4,2,5,3,2,4,6,3,2,5,  8,12,18,6,4,3,5,2,4,3,  2,5,8,13,4,2,3,2,1,2,  1,2];
const chinese_cnn = [0,0,0,0,0,0,0,0,0,0,  0,0,0,0,0,0,0,0,0,0,  0,0,0,0,0,0,0,0,0,0,  0,0,0,0,0,0,0,0,0,0,  0,0,0,0,0,0,0,0,0,0,  0,0,0,0,0,0,0,0,0,0,  0,0,0,0,0,0,0,0,0,2,  4,6,10,15,12,20,28,35,25,18,  25,15,10,8,6,5,4,3,5,2,  3,2,4,2,3,2,4,2,3,2,  3,4,2,3,2,1,2,3,2,1,  2,1,2,3,2,1,2,1,2,1,  1,1];
const chinese_fox = [0,0,0,0,0,0,0,0,0,0,  0,0,0,0,0,0,0,0,0,0,  0,0,0,0,0,0,0,0,0,0,  0,0,0,0,0,0,0,0,0,0,  0,0,0,0,0,0,0,0,0,0,  0,0,0,0,0,0,0,0,0,0,  0,0,0,0,0,0,0,0,2,4,  8,12,18,25,20,22,28,30,25,20,  18,20,15,10,8,6,5,6,4,5,  4,5,3,4,6,5,4,3,5,4,  3,4,5,3,4,3,2,4,3,2,  3,2,4,3,2,3,2,3,2,2,  2,2];

// y-axis tick values per panel
const ticks_covid = [0, 250, 500, 750, 1000, 1250];
const ticks_virus = [0, 1000, 2000, 3000, 4000];
const ticks_outbreak = [0, 200, 400, 600, 800];
const ticks_epidemic = [0, 50, 100, 150, 200];
const ticks_pandemic = [0, 500, 1000];
const ticks_china = [0, 500, 1000, 1500, 2000];
const ticks_trump = [0, 500, 1000, 1500];
const ticks_test = [0, 2000, 4000, 6000];
const ticks_ventilator = [0, 500, 1000, 1500];
const ticks_quarantine = [0, 300, 600, 900];
const ticks_contact = [0, 25, 50, 75, 100, 125];
const ticks_lockdown = [0, 25, 50, 75];
const ticks_stay = [0, 100, 200, 300];
const ticks_social = [0, 100, 200, 300, 400];
const ticks_emergency = [0, 50, 100, 150];
const ticks_shelter = [0, 50, 100, 150, 200];
const ticks_treatment = [0, 200, 400, 600];
const ticks_vaccine = [0, 250, 500, 750, 1000, 1250];
const ticks_disinfectant = [0, 250, 500, 750, 1000];
const ticks_malaria = [0, 50, 100, 150];
const ticks_chloroq = [0, 200, 400, 600];
const ticks_chinavirus = [0, 2.5, 5, 7.5, 10];
const ticks_wuhan = [0, 5, 10, 15];
const ticks_chinese = [0, 10, 20, 30, 40];

// panel table: title, MSNBC, CNN, FOX, y ticks
const panels = [
  ['covid', covid_msnbc, covid_cnn, covid_fox, ticks_covid],
  ['virus', virus_msnbc, virus_cnn, virus_fox, ticks_virus],
  ['outbreak', outbreak_msnbc, outbreak_cnn, outbreak_fox, ticks_outbreak],
  ['epidemic', epidemic_msnbc, epidemic_cnn, epidemic_fox, ticks_epidemic],
  ['pandemic', pandemic_msnbc, pandemic_cnn, pandemic_fox, ticks_pandemic],
  ['china', china_msnbc, china_cnn, china_fox, ticks_china],
  ['trump', trump_msnbc, trump_cnn, trump_fox, ticks_trump],
  ['test', test_msnbc, test_cnn, test_fox, ticks_test],
  ['ventilator', ventilator_msnbc, ventilator_cnn, ventilator_fox, ticks_ventilator],
  ['quarantine', quarantine_msnbc, quarantine_cnn, quarantine_fox, ticks_quarantine],
  ['contact tracing', contact_msnbc, contact_cnn, contact_fox, ticks_contact],
  ['lock down', lockdown_msnbc, lockdown_cnn, lockdown_fox, ticks_lockdown],
  ['stay at home', stay_msnbc, stay_cnn, stay_fox, ticks_stay],
  ['social distancing', social_msnbc, social_cnn, social_fox, ticks_social],
  ['national emergency', emergency_msnbc, emergency_cnn, emergency_fox, ticks_emergency],
  ['shelter in place', shelter_msnbc, shelter_cnn, shelter_fox, ticks_shelter],
  ['treatment', treatment_msnbc, treatment_cnn, treatment_fox, ticks_treatment],
  ['vaccine', vaccine_msnbc, vaccine_cnn, vaccine_fox, ticks_vaccine],
  ['disinfectant', disinfectant_msnbc, disinfectant_cnn, disinfectant_fox, ticks_disinfectant],
  ['malaria', malaria_msnbc, malaria_cnn, malaria_fox, ticks_malaria],
  ['chloroq', chloroq_msnbc, chloroq_cnn, chloroq_fox, ticks_chloroq],
  ['china virus', chinavirus_msnbc, chinavirus_cnn, chinavirus_fox, ticks_chinavirus],
  ['wuhan virus', wuhan_msnbc, wuhan_cnn, wuhan_fox, ticks_wuhan],
  ['chinese virus', chinese_msnbc, chinese_cnn, chinese_fox, ticks_chinese]
];

// styling
const netColors = ['#0000ff', '#a020f0', '#ff0000'];
const netSymbols = ['circle', 'triangle', 'rect'];
const netSymbolSize = [6, 7, 6];
const FONT = '"Liberation Sans", Arial, Helvetica, sans-serif';
const AXIS_TEXT = '#4d4d4d';
const FRAME = '#b3b3b3';
const GRID_MAJOR = '#e2e2e2';
const GRID_MINOR = '#f0f0f0';

// layout of the 4 x 6 facet grid
const colLabelX = [5, 329, 651, 969];
const colRight = [320, 640, 958, 1275];
const firstTop = 32, rowStep = 111, plotH = 66;

// date axis: day index 0 = first day; weekly breaks on Mondays
const baseMs = Date.parse(firstDay + 'T00:00:00Z');
function dayLabel(t) {
  return new Date(baseMs + Math.round(t) * 86400000).toISOString().slice(0, 10);
}
const dates = [];
for (let i = 0; i < dayCount; i++) dates.push(dayLabel(i));
const span = dayCount - 1;
const xMin = -0.05 * span, xMax = span * 1.05;
const xMajor = [], xMinor = [];
for (let t = -2; t <= xMax; t += 7) if (t >= xMin) xMajor.push(t);
for (let t = -5.5; t <= xMax; t += 7) if (t >= xMin) xMinor.push(t);

const measure = document.createElement('canvas').getContext('2d');
measure.font = '12px ' + FONT;

const option = { animation: false, title: [], legend: [], grid: [], xAxis: [], yAxis: [], series: [] };

panels.forEach((p, i) => {
  const [name, msnbc, cnn, fox, ticks] = p;
  const col = i % 4, row = Math.floor(i / 4);
  const dec = ticks.some(v => !Number.isInteger(v)) ? 1 : 0;
  const tickText = ticks.map(v => v.toFixed(dec));
  const labelW = Math.max(...tickText.map(s => measure.measureText(s).width));
  const left = colLabelX[col] + labelW + 4;
  const width = colRight[col] - left;
  const top = firstTop + row * rowStep;

  const all = msnbc.concat(cnn, fox);
  const lo = Math.min(...all), hi = Math.max(...all);
  const pad = (hi - lo) * 0.05;
  const yMin = lo - pad, yMax = hi + pad;
  const step = ticks[1] - ticks[0];
  const yMinor = [];
  for (let v = ticks[0] - step / 2; v <= yMax; v += step) if (v >= yMin) yMinor.push(v);

  option.grid.push({
    left: left, top: top, width: width, height: plotH,
    show: true, borderColor: FRAME, borderWidth: 1.5, backgroundColor: 'transparent',
    containLabel: false, outerBoundsMode: 'none'
  });

  option.title.push({
    text: name, left: left + width / 2, top: top - 22, textAlign: 'center', padding: 0,
    textStyle: { fontSize: 18, fontWeight: 'normal', color: '#000', fontFamily: FONT }
  });

  option.legend.push({
    orient: 'vertical', left: left + width * 0.097, top: top - 4,
    backgroundColor: '#fff', padding: [9, 4, 4, 5],
    itemWidth: 15, itemHeight: 8, itemGap: 4, selectedMode: false,
    textStyle: { fontSize: 9, color: '#1a1a1a', fontFamily: FONT, lineHeight: 11 },
    data: networks
  });

  option.xAxis.push({
    type: 'value', gridIndex: i, min: xMin, max: xMax,
    axisLine: { show: false },
    axisTick: { show: true, length: 3, lineStyle: { color: FRAME, width: 1 }, customValues: xMajor },
    axisLabel: { show: true, customValues: xMajor, formatter: v => dayLabel(v), fontSize: 11,
                 color: AXIS_TEXT, margin: 4, fontFamily: FONT, hideOverlap: false,
                 showMinLabel: true, showMaxLabel: true, alignMaxLabel: 'right' },
    splitLine: { show: true, lineStyle: { color: GRID_MAJOR, width: 1 } }
  });
  option.xAxis.push({
    type: 'value', gridIndex: i, min: xMin, max: xMax, position: 'top',
    axisLine: { show: false },
    axisTick: { show: false, customValues: xMinor },
    axisLabel: { show: false },
    splitLine: { show: true, lineStyle: { color: GRID_MINOR, width: 1 } }
  });

  option.yAxis.push({
    type: 'value', gridIndex: i, min: yMin, max: yMax,
    axisLine: { show: false },
    axisTick: { show: true, length: 3, lineStyle: { color: FRAME, width: 1 }, customValues: ticks },
    axisLabel: { show: true, customValues: ticks, formatter: v => v.toFixed(dec), fontSize: 12,
                 color: AXIS_TEXT, margin: 5, fontFamily: FONT, showMinLabel: true, showMaxLabel: true },
    splitLine: { show: true, lineStyle: { color: GRID_MAJOR, width: 1 } }
  });
  option.yAxis.push({
    type: 'value', gridIndex: i, min: yMin, max: yMax, position: 'right',
    axisLine: { show: false },
    axisTick: { show: false, customValues: yMinor },
    axisLabel: { show: false },
    splitLine: { show: true, lineStyle: { color: GRID_MINOR, width: 1 } }
  });

  [msnbc, cnn, fox].forEach((vals, k) => {
    option.series.push({
      type: 'line', name: networks[k],
      xAxisIndex: 2 * i, yAxisIndex: 2 * i,
      data: vals.map((v, d) => [d, v]),
      symbol: netSymbols[k], symbolSize: netSymbolSize[k], showSymbol: true,
      color: netColors[k],
      lineStyle: { width: 1.7, color: netColors[k] },
      itemStyle: { color: netColors[k] },
      emphasis: { disabled: true },
      z: 2 + k
    });
  });
});

const chart = echarts.init(document.getElementById('chart'), null, { renderer: 'canvas' });
chart.setOption(option);
</script>
</body>
</html>
